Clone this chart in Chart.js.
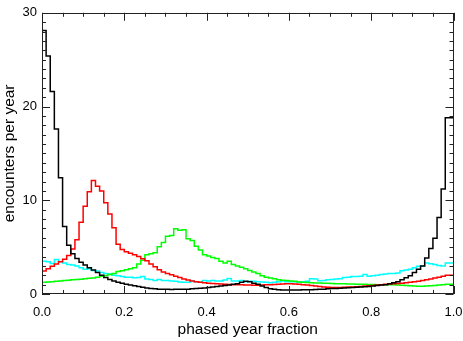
<!DOCTYPE html>
<html>
<head>
<meta charset="utf-8">
<script src="https://cdn.jsdelivr.net/npm/chart.js@4"></script>
<style>
  html, body { margin: 0; padding: 0; background: #fff; }
  #wrap { width: 463px; height: 341px; }
</style>
</head>
<body>
<div id="wrap"><canvas id="chart"></canvas></div>
<script>
// histogram, 100 bins of 0.01 in phased year fraction
const binWidth = 0.01;

const black = [
  28.6, 28.1, 25.4, 21.6, 17.6, 12.4, 7.2, 5.2, 4.3, 3.8,
  3.4, 3.1, 2.8, 2.55, 2.3, 2.0, 1.75, 1.55, 1.4, 1.25,
  1.15, 1.05, 0.95, 0.88, 0.8, 0.72, 0.65, 0.6, 0.55, 0.52,
  0.5, 0.5, 0.48, 0.5, 0.5, 0.52, 0.5, 0.55, 0.6, 0.62,
  0.65, 0.7, 0.75, 0.8, 0.85, 0.9, 0.95, 1.05, 1.1, 1.25,
  1.35, 1.3, 1.15, 1.05, 0.85, 0.7, 0.55, 0.5, 0.45, 0.43,
  0.42, 0.43, 0.42, 0.43, 0.45, 0.45, 0.45, 0.48, 0.5, 0.5,
  0.55, 0.58, 0.6, 0.62, 0.65, 0.68, 0.7, 0.72, 0.75, 0.78,
  0.8, 0.85, 0.9, 0.95, 1.0, 1.1, 1.2, 1.3, 1.52, 1.73,
  1.96, 2.3, 2.65, 3.0, 3.83, 4.86, 5.95, 8.17, 11.2, 18.8
];
const red = [
  2.1, 2.45, 2.7, 2.95, 3.2, 3.45, 3.7, 4.1, 4.8, 5.8,
  7.66, 9.36, 10.9, 12.1, 11.5, 11.0, 9.73, 8.54, 7.08, 5.3,
  4.75, 4.5, 4.35, 4.18, 4.0, 3.75, 3.55, 3.2, 2.9, 2.6,
  2.35, 2.2, 2.05, 1.9, 1.75, 1.6, 1.5, 1.4, 1.32, 1.25,
  1.2, 1.15, 1.12, 1.1, 1.08, 1.05, 1.02, 1.0, 1.0, 0.98,
  0.96, 0.95, 0.94, 0.94, 0.96, 0.98, 1.0, 1.02, 1.05, 1.08,
  1.1, 1.1, 1.08, 1.05, 1.0, 0.95, 0.9, 0.85, 0.8, 0.75,
  0.72, 0.7, 0.7, 0.7, 0.72, 0.74, 0.76, 0.78, 0.8, 0.85,
  0.88, 0.92, 0.95, 1.0, 1.04, 1.06, 1.1, 1.12, 1.15, 1.2,
  1.25, 1.3, 1.35, 1.45, 1.52, 1.6, 1.7, 1.8, 1.9, 2.0
];
const green = [
  1.2, 1.25, 1.28, 1.32, 1.35, 1.4, 1.45, 1.48, 1.52, 1.55,
  1.58, 1.62, 1.68, 1.72, 1.78, 1.9, 1.98, 2.07, 2.2, 2.4,
  2.47, 2.6, 2.7, 2.81, 3.2, 3.6, 4.2, 4.3, 4.4, 5.03,
  5.5, 6.15, 6.25, 6.95, 6.8, 6.85, 5.9, 5.7, 5.1, 4.7,
  4.2, 4.05, 3.9, 3.8, 3.5, 3.32, 3.5, 3.16, 3.0, 2.85,
  2.7, 2.5, 2.35, 2.2, 1.96, 1.8, 1.7, 1.62, 1.52, 1.48,
  1.45, 1.4, 1.35, 1.28, 1.25, 1.22, 1.2, 1.18, 1.18, 1.16,
  1.15, 1.12, 1.1, 1.1, 1.1, 1.08, 1.06, 1.05, 1.04, 1.04,
  1.02, 1.02, 1.0, 1.0, 1.0, 0.98, 0.98, 0.96, 0.94, 0.9,
  0.87, 0.86, 0.84, 0.84, 0.85, 0.87, 0.9, 0.95, 1.0, 1.04
];
const cyan = [
  3.5, 3.5, 3.43, 3.26, 3.67, 3.45, 3.32, 3.16, 3.1, 3.0,
  2.81, 2.65, 2.7, 2.5, 2.45, 2.3, 2.2, 2.14, 2.0, 1.95,
  1.86, 1.8, 1.78, 1.73, 1.75, 1.86, 1.6, 1.55, 1.45, 1.55,
  1.45, 1.45, 1.38, 1.35, 1.28, 1.25, 1.25, 1.38, 1.3, 1.28,
  1.45, 1.38, 1.45, 1.4, 1.38, 1.5, 1.66, 1.38, 1.4, 1.45,
  1.3, 1.35, 1.35, 1.3, 1.28, 1.25, 1.2, 1.25, 1.3, 1.38,
  1.3, 1.3, 1.3, 1.25, 1.3, 1.35, 1.62, 1.6, 1.42, 1.45,
  1.52, 1.55, 1.6, 1.62, 1.75, 1.8, 1.86, 1.86, 1.9, 2.07,
  1.9, 1.96, 2.0, 2.07, 2.14, 2.2, 2.2, 2.25, 2.47, 2.55,
  2.65, 2.81, 2.95, 3.0, 3.32, 3.22, 3.16, 3.05, 2.99, 3.3
];

const xTicks = [0, 0.2, 0.4, 0.6, 0.8, 1.0];
const yTicks = [0, 10, 20, 30];
const xMinor = 0.05;
const yMinor = 1;

// left bin edges, plus a closing point at 1.0
function toSteps(vals) {
  const pts = vals.map((v, i) => ({ x: i * binWidth, y: v }));
  pts.push({ x: vals.length * binWidth, y: vals[vals.length - 1] });
  return pts;
}

function line(vals, color) {
  return {
    data: toSteps(vals),
    borderColor: color,
    borderWidth: 1.5,
    stepped: 'after',
    pointRadius: 0,
    fill: false
  };
}

const font = { family: "'Liberation Sans', Arial, sans-serif", size: 13 };
const titleFont = { family: "'Liberation Sans', Arial, sans-serif", size: 15.5 };

// IDL style frame with inward ticks on all four sides
const frame = {
  id: 'frame',
  afterDraw(chart) {
    const { ctx, chartArea: a, scales: { x, y } } = chart;
    ctx.save();
    ctx.strokeStyle = '#222';
    ctx.lineWidth = 1;
    ctx.strokeRect(Math.round(a.left) + 0.5, Math.round(a.top) + 0.5,
      Math.round(a.right - a.left) - 1, Math.round(a.bottom - a.top) - 1);
    ctx.beginPath();
    for (let k = 0; k * xMinor <= 1.0001; k++) {
      const v = k * xMinor;
      const px = Math.round(x.getPixelForValue(v)) + 0.5;
      const len = xTicks.some(t => Math.abs(t - v) < 1e-6) ? 8 : 4;
      ctx.moveTo(px, a.bottom); ctx.lineTo(px, a.bottom - len);
      ctx.moveTo(px, a.top); ctx.lineTo(px, a.top + len);
    }
    for (let v = 0; v <= 30; v += yMinor) {
      const py = Math.round(y.getPixelForValue(v)) + 0.5;
      const len = yTicks.includes(v) ? 8 : 4;
      ctx.moveTo(a.left, py); ctx.lineTo(a.left + len, py);
      ctx.moveTo(a.right, py); ctx.lineTo(a.right - len, py);
    }
    ctx.stroke();
    ctx.restore();
  }
};

new Chart('chart', {
  type: 'line',
  data: {
    datasets: [
      line(black, '#000000'),
      line(red, '#ff0000'),
      line(green, '#00ff00'),
      line(cyan, '#00ffff')
    ]
  },
  options: {
    responsive: true,
    maintainAspectRatio: false,
    animation: false,
    layout: { padding: { left: 0, top: 1, right: 0, bottom: 2 } },
    plugins: {
      legend: { display: false },
      tooltip: { enabled: false }
    },
    scales: {
      x: {
        type: 'linear',
        min: 0,
        max: 1,
        afterBuildTicks: s => { s.ticks = xTicks.map(v => ({ value: v })); },
        afterFit: s => { s.height = 45; s.paddingRight = 9.5; },
        grid: { display: false, drawTicks: false },
        border: { display: false },
        ticks: {
          color: '#000',
          font: font,
          padding: 11,
          maxRotation: 0,
          callback: v => Number(v).toFixed(1)
        },
        title: { display: true, text: 'phased year fraction', color: '#000', font: titleFont, padding: 0 }
      },
      y: {
        min: 0,
        max: 30,
        afterBuildTicks: s => { s.ticks = yTicks.map(v => ({ value: v })); },
        afterFit: s => { s.width = 42; },
        grid: { display: false, drawTicks: false },
        border: { display: false },
        ticks: { color: '#000', font: font, padding: 5 },
        title: { display: true, text: 'encounters per year', color: '#000', font: titleFont, padding: 0 }
      }
    }
  },
  plugins: [frame]
});
</script>
</body>
</html>
